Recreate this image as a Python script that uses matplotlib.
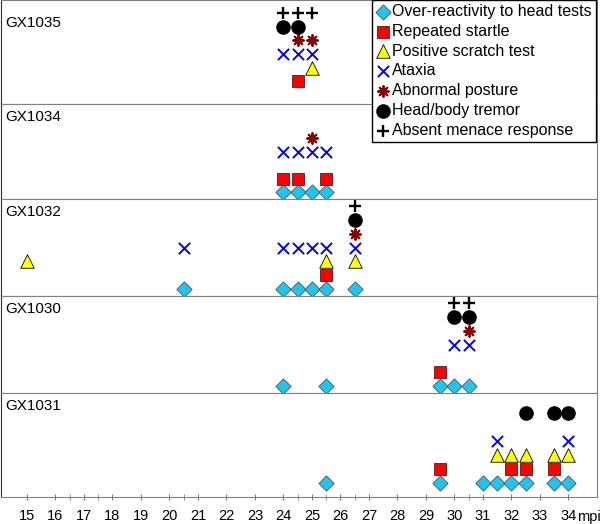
import matplotlib.pyplot as plt

plt.rcParams['font.family'] = ['Liberation Sans', 'DejaVu Sans']

animals = ['GX1035', 'GX1034', 'GX1032', 'GX1030', 'GX1031']
signs = ['Over-reactivity to head tests', 'Repeated startle', 'Positive scratch test',
         'Ataxia', 'Abnormal posture', 'Head/body tremor', 'Absent menace response']

# time points (mpi) where each sign was seen, per animal
gx1035_head = []
gx1035_startle = [24.5]
gx1035_scratch = [25]
gx1035_ataxia = [24, 24.5, 25]
gx1035_posture = [24.5, 25]
gx1035_tremor = [24, 24.5]
gx1035_menace = [24, 24.5, 25]

gx1034_head = [24, 24.5, 25, 25.5]
gx1034_startle = [24, 24.5, 25.5]
gx1034_scratch = []
gx1034_ataxia = [24, 24.5, 25, 25.5]
gx1034_posture = [25]
gx1034_tremor = []
gx1034_menace = []

gx1032_head = [20.5, 24, 24.5, 25, 25.5, 26.5]
gx1032_startle = [25.5]
gx1032_scratch = [15, 25.5, 26.5]
gx1032_ataxia = [20.5, 24, 24.5, 25, 25.5, 26.5]
gx1032_posture = [26.5]
gx1032_tremor = [26.5]
gx1032_menace = [26.5]

gx1030_head = [24, 25.5, 29.5, 30, 30.5]
gx1030_startle = [29.5]
gx1030_scratch = []
gx1030_ataxia = [30, 30.5]
gx1030_posture = [30.5]
gx1030_tremor = [30, 30.5]
gx1030_menace = [30, 30.5]

gx1031_head = [25.5, 29.5, 31, 31.5, 32, 32.5, 33.5, 34]
gx1031_startle = [29.5, 32, 32.5, 33.5]
gx1031_scratch = [31.5, 32, 32.5, 33.5, 34]
gx1031_ataxia = [31.5, 34]
gx1031_posture = []
gx1031_tremor = [32.5, 33.5, 34]
gx1031_menace = []

panels = [
    [gx1035_head, gx1035_startle, gx1035_scratch, gx1035_ataxia, gx1035_posture, gx1035_tremor, gx1035_menace],
    [gx1034_head, gx1034_startle, gx1034_scratch, gx1034_ataxia, gx1034_posture, gx1034_tremor, gx1034_menace],
    [gx1032_head, gx1032_startle, gx1032_scratch, gx1032_ataxia, gx1032_posture, gx1032_tremor, gx1032_menace],
    [gx1030_head, gx1030_startle, gx1030_scratch, gx1030_ataxia, gx1030_posture, gx1030_tremor, gx1030_menace],
    [gx1031_head, gx1031_startle, gx1031_scratch, gx1031_ataxia, gx1031_posture, gx1031_tremor, gx1031_menace],
]

major_ticks = list(range(15, 35))
minor_ticks = [16.5, 17.5, 20.5, 24.5, 25.5, 26.5, 30.5]

styles = [
    dict(marker='D', s=60, c='#22c4ec', edgecolors='#3a5a6a', linewidths=0.6),
    dict(marker='s', s=78, c='#ff0000', edgecolors='#5a1a1a', linewidths=0.6),
    dict(marker='^', s=95, c='#ffff00', edgecolors='black', linewidths=0.6),
    dict(marker='x', s=65, c='#0000ff', linewidths=1.4),
    dict(marker=(8, 2, 0), s=60, c='#8b0000', linewidths=1.4),
    dict(marker='o', s=90, c='black'),
    dict(marker='+', s=75, c='black', linewidths=1.7),
]

ylims = [(0.34, 7.95), (0.5, 7.5), (0.5, 7.5), (0.5, 7.5), (0.0, 7.44)]

fig, axes = plt.subplots(5, 1, figsize=(6, 5.24), dpi=100, sharex=True,
                         gridspec_kw=dict(height_ratios=[104, 95, 97, 97, 104], hspace=0))
fig.subplots_adjust(left=0.002, right=0.995, top=1.0, bottom=0.0515)

for i, ax in enumerate(axes):
    for level, (xs, st) in enumerate(zip(panels[i], styles)):
        ax.scatter(xs, [level + 1] * len(xs), label=signs[level], zorder=3, clip_on=False, **st)
    ax.set_ylim(*ylims[i])
    ax.set_yticks([])
    for side in ['top', 'bottom', 'right']:
        ax.spines[side].set_color('#808080')
    ax.spines['left'].set_color('#303030')
    ax.annotate(animals[i], xy=(0, 1), xycoords='axes fraction',
                xytext=(3, -11.5 if i == 0 else -4.5), textcoords='offset points',
                ha='left', va='top', fontsize=11)
    ax.tick_params(axis='x', which='both', length=0)

ax = axes[-1]
ax.set_xlim(14.1, 35.0)
ax.set_xticks(major_ticks)
ax.set_xticks(minor_ticks, minor=True)
ax.tick_params(axis='x', which='major', direction='inout', length=5, color='#808080',
               labelsize=10.5, pad=6)
ax.tick_params(axis='x', which='minor', direction='inout', length=4, color='#808080')
ax.annotate('mpi', xy=(1, 0), xycoords='axes fraction', xytext=(-6, -9),
            textcoords='offset points', ha='center', va='top', fontsize=10.5)

handles, labels = axes[0].get_legend_handles_labels()
leg = fig.legend(handles, labels, loc='upper left', bbox_to_anchor=(372 / 600, 1.0),
                 fontsize=11.5, frameon=True, fancybox=False, edgecolor='black',
                 framealpha=1, handletextpad=0.1, handlelength=0.9, labelspacing=0.3,
                 borderpad=0.25, borderaxespad=0, markerscale=1.0)
leg.get_frame().set_linewidth(1.0)

fig.savefig('out.png', dpi=100)
